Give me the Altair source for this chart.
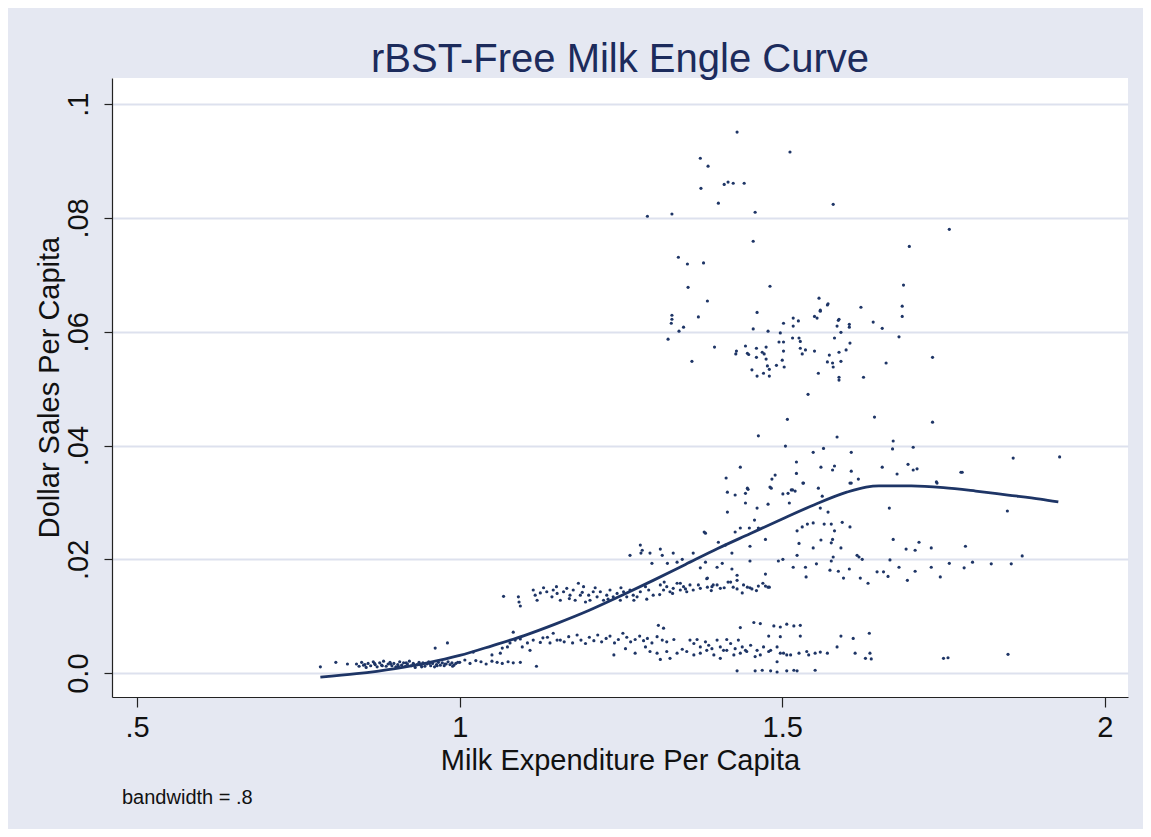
import altair as alt
import pandas as pd

# ---------------- data ----------------
low_left = [
    (0.784, .0011), (0.808, .0019), (0.826, .0016),
    (0.840, .0016), (0.844, .0012), (0.848, .0019), (0.851, .0014), (0.855, .0010), (0.858, .0017),
    (0.862, .0013), (0.866, .0020), (0.869, .0015), (0.872, .0011), (0.876, .0018), (0.879, .0014),
    (0.882, .0021), (0.886, .0012), (0.889, .0016), (0.892, .0019), (0.895, .0013), (0.898, .0017),
    (0.901, .0011), (0.904, .0015), (0.907, .0020), (0.910, .0014), (0.913, .0018), (0.916, .0012),
    (0.919, .0016), (0.922, .0021), (0.925, .0013), (0.928, .0017), (0.931, .0010), (0.934, .0015),
    (0.937, .0019), (0.940, .0014), (0.943, .0018), (0.946, .0012), (0.949, .0016), (0.952, .0020),
    (0.955, .0013), (0.958, .0017), (0.961, .0011), (0.964, .0015), (0.967, .0019), (0.970, .0014),
    (0.973, .0018), (0.976, .0013), (0.979, .0016), (0.982, .0020), (0.985, .0015), (0.988, .0018),
    (0.991, .0014), (0.994, .0017), (0.997, .0019),
    (0.853, .0015), (0.868, .0017), (0.880, .0013), (0.893, .0016), (0.905, .0012), (0.917, .0018),
    (0.929, .0015), (0.941, .0011), (0.953, .0017), (0.965, .0013), (0.977, .0016), (0.989, .0012),
    (0.962, .0044), (0.981, .0053),
    (1.000, .0019), (1.008, .0023), (1.016, .0017), (1.025, .0022), (1.033, .0020), (1.041, .0016),
    (1.050, .0021), (1.058, .0019), (1.066, .0017), (1.075, .0020), (1.083, .0018), (1.094, .0019),
    (1.119, .0012),
]

low_band = [
    (1.021, .0037), (1.050, .0032), (1.063, .0035), (1.066, .0044), (1.074, .0046), (1.078, .0053),
    (1.083, .0072), (1.086, .0058), (1.094, .0060), (1.097, .0046), (1.105, .0053), (1.109, .0040),
    (1.114, .0058), (1.125, .0054), (1.129, .0062), (1.136, .0063), (1.140, .0053), (1.145, .0070),
    (1.151, .0058),
    (1.156, .0058), (1.162, .0055), (1.169, .0064), (1.175, .0053), (1.182, .0067), (1.188, .0058),
    (1.195, .0052), (1.201, .0063), (1.208, .0057), (1.214, .0067), (1.220, .0055), (1.227, .0061),
    (1.233, .0065), (1.240, .0053), (1.246, .0059), (1.253, .0070), (1.259, .0063), (1.265, .0055),
    (1.272, .0059), (1.279, .0065), (1.285, .0057), (1.291, .0061), (1.298, .0053), (1.306, .0064),
    (1.314, .0058), (1.321, .0055), (1.332, .0059),
    (1.357, .0058), (1.363, .0052), (1.368, .0059), (1.373, .0046), (1.381, .0055), (1.386, .0049),
    (1.391, .0043), (1.399, .0058), (1.404, .0046), (1.409, .0040), (1.414, .0059), (1.420, .0052),
    (1.427, .0043), (1.432, .0058), (1.438, .0046), (1.443, .0040), (1.451, .0049), (1.461, .0040),
    (1.471, .0046), (1.482, .0040), (1.492, .0046), (1.502, .0035), (1.513, .0032), (1.526, .0035),
    (1.538, .0038), (1.551, .0035),
    (1.239, .0032), (1.257, .0043), (1.272, .0035), (1.288, .0046), (1.295, .0038), (1.306, .0035),
    (1.311, .0024), (1.321, .0038), (1.326, .0026), (1.337, .0035), (1.345, .0042), (1.352, .0038),
    (1.363, .0032), (1.373, .0035), (1.383, .0040), (1.394, .0032), (1.404, .0026), (1.414, .0040),
    (1.425, .0032), (1.435, .0035), (1.445, .0038), (1.458, .0029), (1.466, .0032), (1.479, .0038),
    (1.492, .0020), (1.497, .0035), (1.507, .0032), (1.541, .0032),
    (1.308, .0084), (1.316, .0079), (1.435, .0080), (1.456, .0089), (1.466, .0087), (1.487, .0083),
    (1.497, .0081), (1.507, .0086), (1.518, .0083), (1.528, .0084),
    (1.479, .0065), (1.497, .0064), (1.528, .0065),
    (1.430, .0004), (1.458, .0004), (1.469, .0005), (1.482, .0004), (1.492, .0002), (1.507, .0004),
    (1.518, .0005), (1.523, .0004), (1.551, .0005),
    (1.559, .0037), (1.570, .0035), (1.585, .0046), (1.591, .0065), (1.610, .0061), (1.613, .0035),
    (1.629, .0026), (1.635, .0070), (1.636, .0035), (1.638, .0025), (1.750, .0026), (1.757, .0027),
    (1.850, .0033),
]

mid_band = [
    (1.068, .0135), (1.091, .0134), (1.092, .0125), (1.094, .0118), (1.114, .0146), (1.117, .0137),
    (1.120, .0128), (1.125, .0141), (1.135, .0143), (1.143, .0134), (1.145, .0146), (1.151, .0140),
    (1.156, .0128), (1.161, .0143), (1.166, .0149), (1.171, .0137), (1.176, .0146), (1.179, .0128),
    (1.184, .0158), (1.187, .0137), (1.192, .0152), (1.195, .0125), (1.200, .0137), (1.202, .0128),
    (1.207, .0143), (1.213, .0134), (1.218, .0143), (1.223, .0128), (1.228, .0137), (1.233, .0146),
    (1.238, .0134), (1.244, .0140), (1.249, .0128), (1.254, .0143), (1.259, .0134), (1.264, .0146),
    (1.269, .0137), (1.275, .0134), (1.280, .0143), (1.288, .0152), (1.293, .0146), (1.300, .0137),
    (1.311, .0155), (1.316, .0146), (1.321, .0152), (1.326, .0143), (1.331, .0149), (1.337, .0158),
    (1.342, .0146), (1.347, .0152), (1.352, .0143), (1.357, .0155), (1.362, .0146), (1.373, .0149),
    (1.383, .0166), (1.391, .0152), (1.399, .0155),
    (1.130, .0150), (1.150, .0152), (1.170, .0131), (1.190, .0142), (1.210, .0150), (1.230, .0130),
    (1.250, .0150), (1.270, .0128), (1.290, .0130), (1.310, .0138), (1.330, .0140), (1.350, .0148),
    (1.370, .0155), (1.390, .0145), (1.410, .0150), (1.420, .0160), (1.430, .0148), (1.440, .0155),
    (1.450, .0150), (1.460, .0145), (1.470, .0158), (1.480, .0151),
    (1.438, .0141), (1.478, .0151), (1.463, .0153), (1.453, .0148), (1.424, .0151), (1.416, .0160),
    (1.404, .0149), (1.393, .0155), (1.384, .0151), (1.430, .0163), (1.446, .0151), (1.474, .0153),
    (1.317, .0160), (1.342, .0158),
]

upper_mid = [
    (1.280, .0225), (1.283, .0216), (1.281, .0211), (1.264, .0207), (1.295, .0211), (1.298, .0193),
    (1.311, .0218), (1.314, .0207), (1.322, .0193), (1.331, .0211), (1.337, .0195), (1.345, .0200),
    (1.362, .0211), (1.381, .0246),
    (1.379, .0248), (1.427, .0248), (1.435, .0255), (1.449, .0255), (1.457, .0269), (1.463, .0255),
    (1.523, .0250), (1.531, .0257), (1.539, .0262), (1.548, .0264), (1.565, .0262), (1.576, .0262),
    (1.593, .0265), (1.605, .0257), (1.581, .0250),
    (1.401, .0230), (1.412, .0225), (1.422, .0211), (1.450, .0223), (1.474, .0235), (1.526, .0228),
    (1.548, .0220), (1.560, .0234), (1.578, .0235), (1.576, .0229), (1.591, .0220), (1.672, .0235),
    (1.692, .0218), (1.706, .0216), (1.712, .0230), (1.731, .0220),
    (1.381, .0195), (1.373, .0185), (1.399, .0186), (1.407, .0193), (1.422, .0183), (1.450, .0197),
    (1.494, .0197), (1.501, .0200), (1.523, .0207), (1.517, .0186), (1.536, .0186), (1.553, .0192),
    (1.537, .0169), (1.576, .0197), (1.574, .0181), (1.587, .0179), (1.579, .0204), (1.595, .0167),
    (1.604, .0183), (1.616, .0207), (1.619, .0204), (1.624, .0200), (1.621, .0167), (1.633, .0158),
    (1.647, .0178), (1.657, .0178), (1.664, .0170), (1.667, .0199), (1.681, .0186), (1.694, .0163),
    (1.706, .0179), (1.731, .0186), (1.745, .0169), (1.759, .0193), (1.384, .0167), (1.430, .0172),
    (1.474, .0174),
    (1.415, .0283), (1.559, .0290), (1.571, .0283), (1.666, .0290), (1.443, .0299), (1.461, .0290),
    (1.478, .0297), (1.511, .0299),
    (1.784, .0223), (1.872, .0206), (1.795, .0195), (1.824, .0192), (1.855, .0192), (1.782, .0185),
    (1.849, .0285),
]

high = [
    (1.415, .0318), (1.427, .0313), (1.443, .0316), (1.447, .0323), (1.481, .0327), (1.501, .0315),
    (1.509, .0316), (1.516, .0322), (1.520, .0320), (1.533, .0334), (1.556, .0325), (1.562, .0311),
    (1.605, .0334), (1.740, .0334),
    (1.858, .0378), (1.930, .0380), (1.777, .0353),
    (1.430, .0951), (1.512, .0916), (1.373, .0905), (1.385, .0891), (1.374, .0852), (1.410, .0859),
    (1.416, .0863), (1.424, .0861), (1.441, .0861), (1.401, .0826), (1.458, .0810), (1.579, .0824),
    (1.291, .0803), (1.329, .0807), (1.455, .0759), (1.339, .0731), (1.353, .0719), (1.378, .0721),
    (1.354, .0678), (1.481, .0680), (1.557, .0659), (1.759, .0780), (1.697, .0750), (1.688, .0682),
    (1.384, .0654), (1.329, .0629), (1.329, .0622), (1.328, .0615), (1.370, .0626), (1.347, .0608),
    (1.340, .0601), (1.323, .0587), (1.461, .0634), (1.455, .0605), (1.478, .0601), (1.395, .0573),
    (1.360, .0548), (1.429, .0566), (1.428, .0561), (1.443, .0575), (1.446, .0562), (1.448, .0560),
    (1.460, .0571), (1.460, .0555), (1.469, .0564), (1.472, .0561), (1.475, .0573), (1.475, .0552),
    (1.477, .0540), (1.480, .0534), (1.453, .0533), (1.461, .0522), (1.471, .0527), (1.480, .0522),
    (1.491, .0541), (1.503, .0538), (1.500, .0550), (1.502, .0566), (1.495, .0582), (1.502, .0582),
    (1.497, .0598), (1.502, .0615), (1.517, .0624), (1.517, .0610), (1.525, .0619), (1.516, .0589),
    (1.526, .0589), (1.528, .0583), (1.528, .0571), (1.536, .0568), (1.531, .0561), (1.550, .0566),
    (1.550, .0627), (1.554, .0624), (1.559, .0636), (1.571, .0649), (1.581, .0589), (1.573, .0559),
    (1.570, .0547), (1.578, .0545), (1.579, .0538), (1.556, .0527), (1.587, .0620), (1.585, .0610),
    (1.540, .0490), (1.508, .0446), (1.463, .0417), (1.585, .0415), (1.505, .0399), (1.548, .0388),
    (1.564, .0395), (1.522, .0371), (1.560, .0362), (1.578, .0357), (1.435, .0362), (1.489, .0348),
    (1.484, .0341), (1.522, .0351), (1.532, .0334), (1.413, .0343), (1.446, .0325), (1.483, .0325),
    (1.514, .0322),
    (1.570, .0647), (1.559, .0638), (1.622, .0643), (1.686, .0645), (1.686, .0627), (1.588, .0622),
    (1.604, .0613), (1.604, .0608), (1.641, .0617), (1.655, .0606), (1.591, .0599), (1.605, .0580),
    (1.681, .0591), (1.588, .0564), (1.599, .0568), (1.591, .0548), (1.588, .0520), (1.588, .0515),
    (1.626, .0520), (1.661, .0545), (1.733, .0555), (1.643, .0450), (1.733, .0441), (1.607, .0388),
    (1.672, .0408), (1.671, .0394), (1.703, .0397), (1.581, .0364), (1.607, .0355), (1.655, .0362),
    (1.678, .0350), (1.695, .0367), (1.703, .0357), (1.709, .0359), (1.779, .0353), (1.607, .0334),
    (1.618, .0341), (1.739, .0336),
]

# lowess fit (bandwidth = .8)
curve = [
    (0.784, -0.0007), (0.840, -0.0001), (0.900, 0.0008), (0.950, 0.0018), (1.000, 0.0031),
    (1.050, 0.0048), (1.100, 0.0066), (1.150, 0.0087), (1.200, 0.0110), (1.250, 0.0136),
    (1.300, 0.0163), (1.350, 0.0191), (1.400, 0.0219), (1.450, 0.0245), (1.500, 0.0271),
    (1.550, 0.0296), (1.600, 0.0318), (1.630, 0.0327), (1.650, 0.0329), (1.700, 0.0329),
    (1.750, 0.0326), (1.800, 0.0320), (1.850, 0.0313), (1.900, 0.0306), (1.928, 0.0301),
]

x_ticks = [0.5, 1, 1.5, 2]
y_ticks = [0, 0.02, 0.04, 0.06, 0.08, 0.1]

title_text = "rBST-Free Milk Engle Curve"
x_title = "Milk Expenditure Per Capita"
y_title = "Dollar Sales Per Capita"
note_text = "bandwidth = .8"

# ---------------- build tables ----------------
pts = pd.DataFrame(low_left + low_band + mid_band + upper_mid + high, columns=["x", "y"])
fit = pd.DataFrame(curve, columns=["x", "y"])
note = pd.DataFrame({"t": [note_text]})
ttl = pd.DataFrame({"t": [title_text]})

FONT = "Liberation Sans"
NAVY = "#1e3566"
BG = "#e5e8f2"

xs = alt.Scale(domain=[0.461, 2.036], nice=False, zero=False)
ys = alt.Scale(domain=[-0.0042, 0.1046], nice=False, zero=False)

lab = ("datum.value == 0 ? '0.0' : (datum.value < 1 ? substring(format(datum.value, ''), 1) "
       ": format(datum.value, ''))")

x_axis = alt.Axis(values=x_ticks, labelExpr=lab, title=x_title, grid=False,
                  tickSize=10, tickColor="#222222", tickWidth=1.2,
                  domainColor="#222222", domainWidth=1.2,
                  labelFont=FONT, labelFontSize=29, labelColor="#111111", labelPadding=6,
                  titleFont=FONT, titleFontSize=29, titleFontWeight="normal", titleColor="#111111",
                  titleBaseline="alphabetic", titleY=72)
y_axis = alt.Axis(values=y_ticks, labelExpr=lab, title=y_title, grid=True,
                  gridColor="#dde1ee", gridWidth=2,
                  tickSize=8, tickColor="#222222", tickWidth=1.2,
                  domainColor="#222222", domainWidth=1.2,
                  labelAngle=-90, labelAlign="center", labelBaseline="alphabetic",
                  labelFont=FONT, labelFontSize=29, labelColor="#111111", labelPadding=17,
                  titleFont=FONT, titleFontSize=29, titleFontWeight="normal", titleColor="#111111",
                  titleAngle=-90, titleBaseline="alphabetic", titleAlign="center",
                  titleX=-54, titleY=309)

scatter = alt.Chart(pts).mark_circle(size=10, color=NAVY, opacity=1).encode(
    x=alt.X("x:Q", scale=xs, axis=x_axis),
    y=alt.Y("y:Q", scale=ys, axis=y_axis),
)

line = alt.Chart(fit).mark_line(color=NAVY, strokeWidth=2.8, interpolate="monotone").encode(
    x=alt.X("x:Q", scale=xs),
    y=alt.Y("y:Q", scale=ys),
)

note_mark = alt.Chart(note).mark_text(
    align="left", baseline="alphabetic", font=FONT, fontSize=20, color="#111111"
).encode(x=alt.value(10), y=alt.value(726), text="t:N")

title_mark = alt.Chart(ttl).mark_text(
    align="center", baseline="alphabetic", font=FONT, fontSize=40, color="#1c2b5c"
).encode(x=alt.value(508), y=alt.value(-6), text="t:N")

chart = alt.layer(scatter, line, note_mark, title_mark).properties(
    width=1016,
    height=619,
    background=BG,
    padding={"left": 104, "top": 70, "right": 15, "bottom": 132},
    autosize=alt.AutoSizeParams(type="none"),
).configure_view(fill="white", stroke=None)

chart.save("out.html", embed_options={"renderer": "svg", "actions": False})
